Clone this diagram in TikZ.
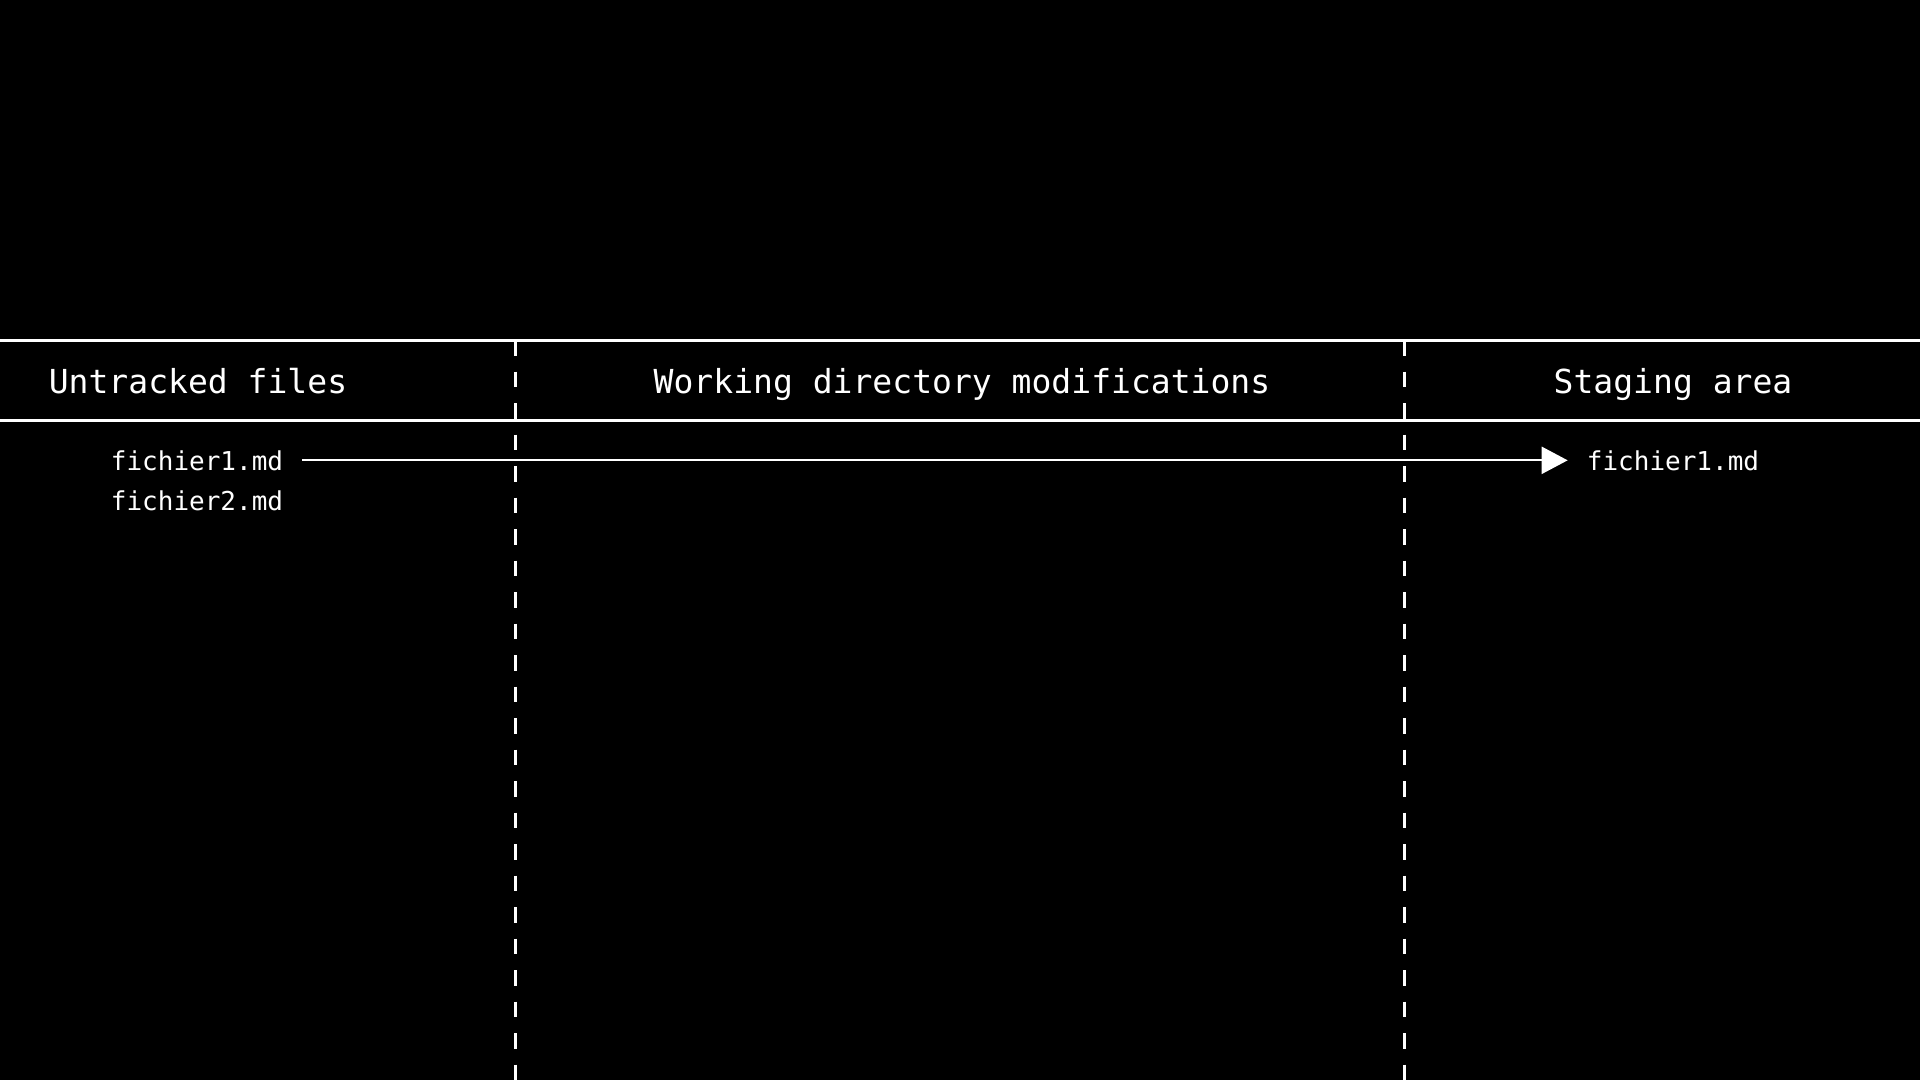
\documentclass[tikz,border=0pt]{standalone}
\usepackage{fontspec}
\setmonofont{DejaVu Sans Mono}
\usetikzlibrary{arrows.meta}
\begin{document}
\begin{tikzpicture}[x=0.1mm,y=-0.1mm,>={Triangle[length=2.6mm,width=2.7mm]},
  header/.style={text=white, font=\ttfamily\fontsize{9.4}{11}\selectfont, anchor=base},
  filename/.style={text=white, font=\ttfamily\fontsize{7.4}{9}\selectfont, anchor=base, inner sep=1.85mm}]
\fill[black] (0,0) rectangle (1920,1080);
\useasboundingbox (0,0) rectangle (1920,1080);

% header band
\draw[white, line width=0.3mm] (0,340) -- (1920,340);
\draw[white, line width=0.3mm] (0,420) -- (1920,420);

% column separators
\draw[white, line width=0.3mm, dash pattern=on 1.55mm off 1.6mm] (515,340) -- (515,1080);
\draw[white, line width=0.3mm, dash pattern=on 1.55mm off 1.6mm] (1404,340) -- (1404,1080);

\node[header] (untracked) at (198,393) {Untracked files};
\node[header] (workdir) at (962,393) {Working directory modifications};
\node[header] (staging) at (1673,393) {Staging area};

\node[filename] (fileone) at (197,470) {fichier1.md};
\node[filename] (filetwo) at (197,510) {fichier2.md};
\node[filename] (stagedone) at (1673,470) {fichier1.md};

\draw[->, white, line width=0.22mm] (fileone.east) -- (stagedone.west);
\end{tikzpicture}
\end{document}
